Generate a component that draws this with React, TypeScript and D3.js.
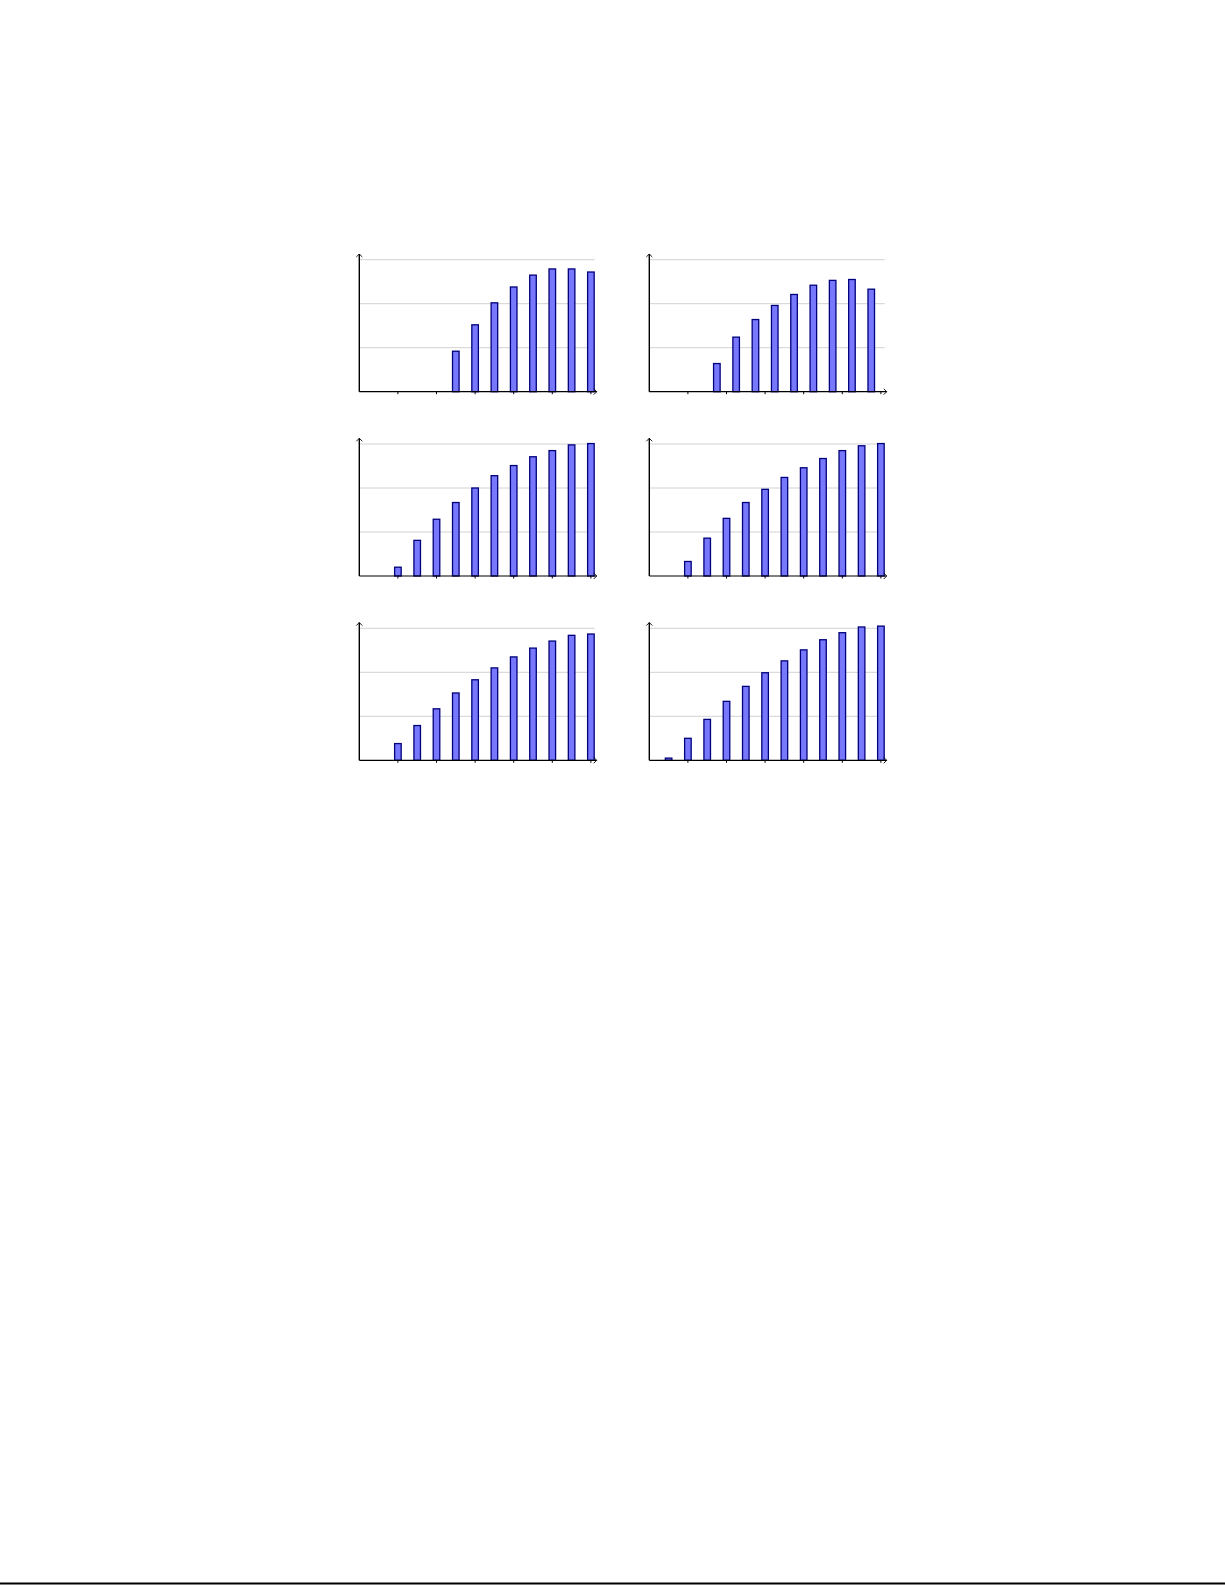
import * as d3 from 'd3';
import { useEffect, useRef } from 'react';

const panelXs = [
  [2.5, 3, 3.5, 4, 4.5, 5, 5.5, 6],
  [1.75, 2.25, 2.75, 3.25, 3.75, 4.25, 4.75, 5.25, 5.75],
  [1, 1.5, 2, 2.5, 3, 3.5, 4, 4.5, 5, 5.5, 6],
  [1, 1.5, 2, 2.5, 3, 3.5, 4, 4.5, 5, 5.5, 6],
  [1, 1.5, 2, 2.5, 3, 3.5, 4, 4.5, 5, 5.5, 6],
  [0.5, 1, 1.5, 2, 2.5, 3, 3.5, 4, 4.5, 5, 5.5, 6],
];

const panelValues = [
  [0.92, 1.52, 2.02, 2.38, 2.65, 2.79, 2.79, 2.72],
  [0.64, 1.24, 1.64, 1.96, 2.21, 2.42, 2.53, 2.55, 2.33],
  [0.2, 0.81, 1.29, 1.67, 2.0, 2.28, 2.51, 2.71, 2.85, 2.98, 3.01],
  [0.33, 0.86, 1.31, 1.67, 1.97, 2.24, 2.46, 2.67, 2.85, 2.96, 3.01],
  [0.38, 0.79, 1.17, 1.53, 1.83, 2.1, 2.35, 2.55, 2.71, 2.84, 2.87],
  [0.05, 0.5, 0.93, 1.34, 1.68, 1.99, 2.26, 2.51, 2.74, 2.9, 3.03, 3.05],
];

const xTicks = [1, 2, 3, 4, 5, 6];
const yGrid = [1, 2, 3];

const colOrigins = [359.3, 649.3];
const rowBaselines = [391.7, 576, 760.3];

const unitX = 38.6;
const unitY = 44;
const xMax = 6.15;
const yMax = 3.13;
const barW = 0.17;

export default function App() {
  const svgRef = useRef<SVGSVGElement>(null);

  useEffect(() => {
    const svgEl = svgRef.current;
    if (!svgEl) return;
    const svg = d3.select(svgEl);
    svg.selectAll('*').remove();

    const x = d3.scaleLinear().domain([0, xMax]).range([0, xMax * unitX]);
    const y = d3.scaleLinear().domain([0, yMax]).range([0, -yMax * unitY]);

    panelValues.forEach((vals, i) => {
      const ox = colOrigins[i % 2];
      const oy = rowBaselines[Math.floor(i / 2)];
      const items = vals.map((v, j) => ({ x: panelXs[i][j], v }));
      const g = svg.append('g').attr('transform', `translate(${ox},${oy})`);

      g.selectAll('.grid')
        .data(yGrid)
        .join('line')
        .attr('x1', 0)
        .attr('x2', x(6.1))
        .attr('y1', (d) => y(d))
        .attr('y2', (d) => y(d))
        .attr('stroke', '#d2d2d2')
        .attr('stroke-width', 1);

      g.selectAll('.tick')
        .data(xTicks)
        .join('line')
        .attr('x1', (d) => x(d))
        .attr('x2', (d) => x(d))
        .attr('y1', 0)
        .attr('y2', 2.5)
        .attr('stroke', '#000')
        .attr('stroke-width', 1);

      g.selectAll('.bar')
        .data(items)
        .join('rect')
        .attr('x', (d) => x(d.x - barW / 2))
        .attr('y', (d) => y(d.v))
        .attr('width', x(barW))
        .attr('height', (d) => -y(d.v))
        .attr('fill', '#7878ff')
        .attr('stroke', '#00007a')
        .attr('stroke-width', 1.3);

      // axes with small arrowheads
      const xe = x(xMax);
      const yt = y(yMax);
      g.append('line')
        .attr('x1', 0).attr('x2', xe).attr('y1', 0).attr('y2', 0)
        .attr('stroke', '#000').attr('stroke-width', 1.2);
      g.append('line')
        .attr('x1', 0).attr('x2', 0).attr('y1', 0).attr('y2', yt)
        .attr('stroke', '#000').attr('stroke-width', 1.4);
      g.append('path')
        .attr('d', `M${xe - 3},${-3}L${xe},0L${xe - 3},3`)
        .attr('fill', 'none').attr('stroke', '#000').attr('stroke-width', 0.9);
      g.append('path')
        .attr('d', `M-3,${yt + 3}L0,${yt}L3,${yt + 3}`)
        .attr('fill', 'none').attr('stroke', '#000').attr('stroke-width', 0.9);
    });

    svg.append('line')
      .attr('x1', 0).attr('x2', 1225)
      .attr('y1', 1583.5).attr('y2', 1583.5)
      .attr('stroke', '#000').attr('stroke-width', 2);
  }, []);

  return (
    <svg
      ref={svgRef}
      width={1225}
      height={1585}
      style={{ position: 'absolute', left: 0, top: 0, display: 'block' }}
    />
  );
}
